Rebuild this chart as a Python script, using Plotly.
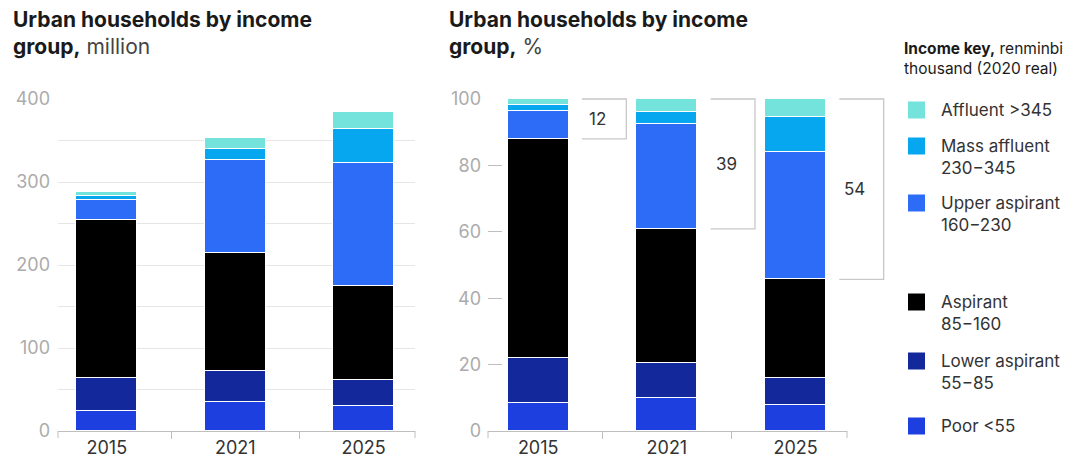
import plotly.graph_objects as go

W, H = 1090, 467

years = ["2015", "2021", "2025"]
group_names = ["Poor <55", "Lower aspirant<br>55−85", "Aspirant<br>85−160",
               "Upper aspirant<br>160−230", "Mass affluent<br>230−345", "Affluent >345"]
group_colors = ["#1E3FE0", "#13289B", "#000000", "#2D6CF6", "#06A7EE", "#74E3DC"]

# Urban households, million
poor_m = [24.5, 34.5, 30.5]
lower_m = [39.0, 37.5, 31.5]
aspirant_m = [190.5, 143.0, 113.0]
upper_m = [24.0, 111.5, 147.5]
mass_m = [5.0, 13.5, 41.0]
affluent_m = [5.0, 13.0, 20.5]

# Urban households, %
poor_p = [8.5, 9.8, 7.8]
lower_p = [13.5, 10.6, 8.3]
aspirant_p = [66.0, 40.5, 29.6]
upper_p = [8.5, 31.5, 38.2]
mass_p = [1.8, 3.6, 10.6]
affluent_p = [1.7, 4.0, 5.5]

left_ticks = [0, 100, 200, 300, 400]
right_ticks = [0, 20, 40, 60, 80, 100]

million_series = [poor_m, lower_m, aspirant_m, upper_m, mass_m, affluent_m]
share_series = [poor_p, lower_p, aspirant_p, upper_p, mass_p, affluent_p]

FONT = "Inter"
BAR_W = 0.475

fig = go.Figure()
for name, col, vals in zip(group_names, group_colors, million_series):
    fig.add_trace(go.Bar(x=years, y=vals, name=name, marker_color=col,
                         marker_line=dict(color="white", width=1), width=BAR_W,
                         xaxis="x", yaxis="y", showlegend=False))
for name, col, vals in zip(group_names, group_colors, share_series):
    fig.add_trace(go.Bar(x=years, y=vals, name=name, marker_color=col,
                         marker_line=dict(color="white", width=1), width=BAR_W,
                         xaxis="x2", yaxis="y2", showlegend=False))

def px_x(p):
    return p / W

def px_y(p):
    return 1 - p / H

YDOM = [px_y(431), px_y(99)]
X1DOM = [px_x(58), px_x(415)]
X2DOM = [px_x(488), px_x(847)]
X1RANGE = [-0.38, 2.4]
X2RANGE = [-0.39, 2.4]

axis_grey = "#bfbfbf"
tick_font = dict(family=FONT, size=18, color="#333333")
ylab_font = dict(family=FONT, size=18, color="#ababab")

common_x = dict(type="category", showline=True, linecolor=axis_grey, linewidth=1,
                ticks="outside", tickson="boundaries", ticklen=7, tickcolor=axis_grey,
                tickfont=tick_font, showgrid=False, zeroline=False, fixedrange=True,
                automargin=False)

fig.update_layout(
    width=W, height=H,
    margin=dict(l=0, r=0, t=0, b=0, pad=0, autoexpand=False),
    paper_bgcolor="white", plot_bgcolor="white",
    barmode="stack", bargap=0,
    showlegend=False,
    xaxis=dict(domain=X1DOM, range=X1RANGE, anchor="y", **common_x),
    yaxis=dict(domain=YDOM, range=[0, 400], anchor="x", tickvals=left_ticks,
               showgrid=True, gridcolor="#e6e6e6", gridwidth=1,
               minor=dict(dtick=50, showgrid=True, gridcolor="#e6e6e6", gridwidth=1),
               zeroline=False, showline=False, ticks="", tickfont=ylab_font,
               ticklabelstandoff=7, automargin=False),
    xaxis2=dict(domain=X2DOM, range=X2RANGE, anchor="y2", **common_x),
    yaxis2=dict(domain=YDOM, range=[0, 100], anchor="x2", tickvals=right_ticks,
                showgrid=False, zeroline=False, showline=False,
                ticks="inside", ticklen=14, tickcolor=axis_grey,
                tickfont=ylab_font, ticklabelstandoff=6, automargin=False),
)

shapes = []
# end ticks of both x axes
for dom in (X1DOM, X2DOM):
    for xe in dom:
        shapes.append(dict(type="line", xref="paper", yref="paper",
                           x0=xe, x1=xe, y0=YDOM[0], y1=YDOM[0] - 7 / H,
                           line=dict(color=axis_grey, width=1)))

def x2_paper(v):
    return X2DOM[0] + (v - X2RANGE[0]) / (X2RANGE[1] - X2RANGE[0]) * (X2DOM[1] - X2DOM[0])

def y2_paper(v):
    return YDOM[0] + v / 100 * (YDOM[1] - YDOM[0])

annotations = []
# brackets for top three groups share
for i in range(len(years)):
    top_share = upper_p[i] + mass_p[i] + affluent_p[i]
    xa, xb = x2_paper(i + 0.34), x2_paper(i + 0.685)
    yt, yb = y2_paper(100), y2_paper(100 - top_share)
    path = f"M {xa},{yt} L {xb},{yt} L {xb},{yb} L {xa},{yb}"
    shapes.append(dict(type="path", xref="paper", yref="paper", path=path,
                       line=dict(color="#c8c8c8", width=1.3)))
    annotations.append(dict(xref="paper", yref="paper", x=x2_paper(i + 0.46),
                            y=y2_paper(100 - top_share / 2), text=f"{round(top_share)}",
                            showarrow=False, xanchor="center", yanchor="middle",
                            font=dict(family=FONT, size=17, color="#333333")))

title_font = dict(family=FONT, size=21, color="#1a1a1a")
annotations.append(dict(xref="paper", yref="paper", x=px_x(11), y=px_y(5),
                        xanchor="left", yanchor="top", align="left", showarrow=False,
                        text="<b>Urban households by income</b><br><b>group,</b> <span style='color:#444'>million</span>",
                        font=title_font))
annotations.append(dict(xref="paper", yref="paper", x=px_x(447), y=px_y(5),
                        xanchor="left", yanchor="top", align="left", showarrow=False,
                        text="<b>Urban households by income</b><br><b>group,</b> <span style='color:#444'>%</span>",
                        font=title_font))
annotations.append(dict(xref="paper", yref="paper", x=px_x(902), y=px_y(37),
                        xanchor="left", yanchor="top", align="left", showarrow=False,
                        text="<b>Income key,</b> renminbi<br>thousand (2020 real)",
                        font=dict(family=FONT, size=15.5, color="#1a1a1a")))

# legend (top to bottom: affluent ... poor)
legend_line1_y = [110, 146, 203, 302, 361, 426]
leg_font = dict(family=FONT, size=17, color="#333333")
for k, idx in enumerate(reversed(range(len(group_names)))):
    cy = legend_line1_y[k]
    shapes.append(dict(type="rect", xref="paper", yref="paper",
                       x0=px_x(908), x1=px_x(925), y0=px_y(cy - 8.5), y1=px_y(cy + 8.5),
                       fillcolor=group_colors[idx], line=dict(width=0)))
    annotations.append(dict(xref="paper", yref="paper", x=px_x(939), y=px_y(cy - 12),
                            xanchor="left", yanchor="top", align="left", showarrow=False,
                            text=group_names[idx], font=leg_font))

fig.update_layout(shapes=shapes, annotations=annotations)
fig.write_html("out.html")
